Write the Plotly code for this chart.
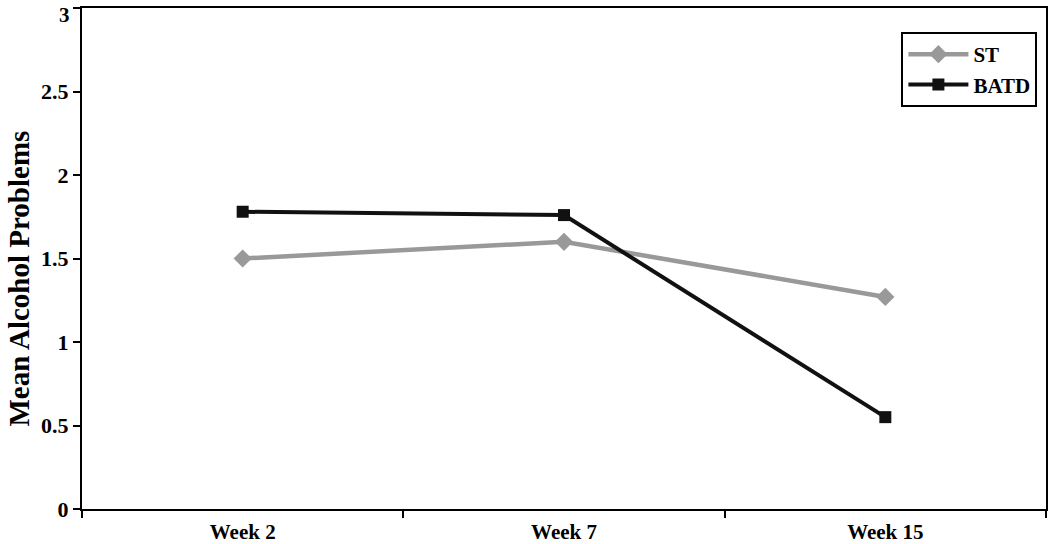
import plotly.graph_objects as go

weeks = ["Week 2", "Week 7", "Week 15"]
st_values = [1.50, 1.60, 1.27]
batd_values = [1.78, 1.76, 0.55]
y_ticks = [0, 0.5, 1, 1.5, 2, 2.5, 3]
y_tick_labels = ["0", "0.5", "1", "1.5", "2", "2.5", "3"]
y_title = "Mean Alcohol Problems"

FONT = "Liberation Serif, Times New Roman, serif"

fig = go.Figure()
fig.add_trace(go.Scatter(
    x=weeks, y=st_values, name="ST", mode="lines+markers",
    line=dict(color="#999999", width=4.5),
    marker=dict(symbol="diamond", size=14, color="#999999"),
))
fig.add_trace(go.Scatter(
    x=weeks, y=batd_values, name="BATD", mode="lines+markers",
    line=dict(color="#111111", width=4),
    marker=dict(symbol="square", size=12, color="#111111"),
))

# top tick label drawn as annotation (plotly drops it at the paper edge)
shown_labels = y_tick_labels[:-1] + [""]
fig.add_annotation(
    x=0, xref="paper", y=y_ticks[-1], yref="y",
    text="<b>" + y_tick_labels[-1] + "</b>", showarrow=False,
    xanchor="right", yanchor="top", xshift=-10, yshift=7,
    font=dict(family=FONT, size=21, color="black"),
)
fig.add_annotation(
    x=0, xref="paper", y=0.46, yref="paper",
    text="<b>" + y_title + "</b>", showarrow=False, textangle=-90,
    xanchor="center", yanchor="middle", xshift=-63,
    font=dict(family=FONT, size=29, color="black"),
)

fig.update_layout(
    width=1050, height=544,
    margin=dict(l=82, r=4, t=8, b=35, autoexpand=False),
    paper_bgcolor="white", plot_bgcolor="white",
    font=dict(family=FONT, color="black"),
    showlegend=True,
    legend=dict(
        x=0.850, y=0.952, xanchor="left", yanchor="top",
        bordercolor="black", borderwidth=2, bgcolor="white",
        font=dict(family=FONT, size=21, weight="bold", color="black"),
        tracegroupgap=0, itemwidth=60,
    ),
)
fig.update_xaxes(
    type="category", categoryorder="array", categoryarray=weeks,
    range=[-0.5, 2.5],
    showline=True, linecolor="black", linewidth=2, mirror=True,
    ticks="outside", tickson="boundaries", ticklen=7, tickwidth=2, tickcolor="black",
    showgrid=False, zeroline=False, ticklabelstandoff=3,
    tickfont=dict(family=FONT, size=21, weight="bold", color="black"),
)
fig.update_yaxes(
    range=[0, 3], tickvals=y_ticks, ticktext=shown_labels,
    showline=True, linecolor="black", linewidth=2, mirror=True,
    ticks="outside", ticklen=7, tickwidth=2, tickcolor="black",
    showgrid=False, zeroline=False,
    tickfont=dict(family=FONT, size=22, weight="bold", color="black"),
)

fig.write_html(
    "out.html",
    config={"displayModeBar": False},
    post_script="document.body.style.margin='0';document.body.style.overflow='hidden';",
)
